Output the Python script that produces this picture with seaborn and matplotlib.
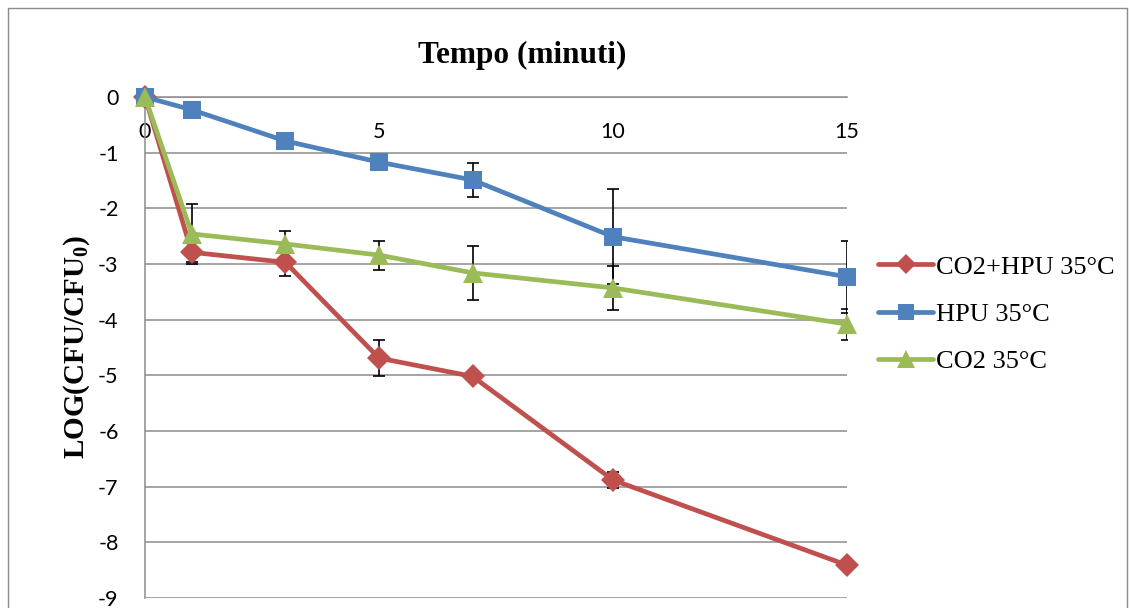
import matplotlib
matplotlib.use("Agg")
import matplotlib.pyplot as plt
import pandas as pd
import seaborn as sns

# minutes of treatment
minutes = [0, 1, 3, 5, 7, 10, 15]

# LOG(CFU/CFU0) for each treatment, with error bar half-widths
co2_hpu = [0, -2.79, -2.97, -4.69, -5.02, -6.88, -8.41]
co2_hpu_err = [0, 0.18, 0.24, 0.32, 0, 0.15, 0]
hpu = [0, -0.23, -0.79, -1.17, -1.49, -2.51, -3.23]
hpu_err = [0, 0, 0, 0, 0.30, 0.85, 0.65]
co2 = [0, -2.46, -2.64, -2.84, -3.16, -3.43, -4.08]
co2_err = [0, 0.54, 0.23, 0.26, 0.49, 0.40, 0.28]

series_names = ["CO2+HPU 35°C", "HPU 35°C", "CO2 35°C"]
y_ticks = [0, -1, -2, -3, -4, -5, -6, -7, -8, -9]
x_ticks = [0, 5, 10, 15]

colors = {"CO2+HPU 35°C": "#C0504D", "HPU 35°C": "#4F81BD", "CO2 35°C": "#9BBB59"}
markers = {"CO2+HPU 35°C": "D", "HPU 35°C": "s", "CO2 35°C": "^"}

values = [co2_hpu, hpu, co2]
errors = [co2_hpu_err, hpu_err, co2_err]

# long form table for seaborn
rows = []
for name, vals in zip(series_names, values):
    for m, v in zip(minutes, vals):
        rows.append({"minuti": m, "log": v, "serie": name})
df = pd.DataFrame(rows)

sns.set_style("white")
plt.rcParams["font.family"] = ["Lato", "DejaVu Sans"]
plt.rcParams["axes.unicode_minus"] = False
plt.rcParams["text.color"] = "black"
plt.rcParams["xtick.color"] = "black"
plt.rcParams["ytick.color"] = "black"

fig = plt.figure(figsize=(11.3, 6.08), dpi=100)
ax = fig.add_axes([145 / 1130, 1 - 598 / 608, 702 / 1130, 501 / 608])

sns.lineplot(data=df, x="minuti", y="log", hue="serie", style="serie",
             hue_order=series_names, style_order=series_names,
             palette=colors, markers=markers, dashes=False,
             linewidth=3.4, markersize=13, markeredgewidth=0,
             legend=False, ax=ax, clip_on=False)
line_handles = list(ax.lines[:3])
# Excel draws later series on top
for i, ln in enumerate(line_handles):
    ln.set_zorder(4 + i)
    if ln.get_marker() == "^":
        ln.set_markersize(15)
    elif ln.get_marker() == "D":
        ln.set_markersize(12)

# error bars (only where there is one)
for vals, errs in zip(values, errors):
    xs = [m for m, e in zip(minutes, errs) if e > 0]
    ys = [v for v, e in zip(vals, errs) if e > 0]
    es = [e for e in errs if e > 0]
    ax.errorbar(xs, ys, yerr=es, fmt="none", ecolor="black",
                elinewidth=1.2, capsize=4, capthick=1.2, zorder=3)

ax.set_xlim(0, 15)
ax.set_ylim(-9, 0)
ax.set_yticks(y_ticks)
ax.set_xticks(x_ticks)
ax.set_xlabel("")
ax.set_ylabel("")
ax.grid(axis="y", color="#8C8C8C", linewidth=1.1)
ax.grid(axis="x", visible=False)
ax.set_axisbelow(True)

for side in ["top", "right"]:
    ax.spines[side].set_visible(False)
ax.spines["bottom"].set_position(("data", 0))
ax.spines["bottom"].set_color("#8C8C8C")
ax.spines["bottom"].set_linewidth(1.1)
ax.spines["left"].set_color("#8C8C8C")
ax.spines["left"].set_linewidth(1.1)

ax.tick_params(axis="y", length=0, pad=19, labelsize=15.5)
ax.tick_params(axis="x", length=0, pad=18, labelsize=15.5)

# axis titles, Excel style
fig.text(522 / 1130, 1 - 55 / 608, "Tempo (minuti)", ha="center", va="center",
         fontsize=22.5, fontweight="bold", family="Liberation Serif")
fig.text(77 / 1130, 1 - 347 / 608, r"LOG(CFU/CFU$_\mathregular{0}$)",
         ha="center", va="center", rotation=90,
         fontsize=21, fontweight="bold", family="Liberation Serif")

fig.legend(line_handles, series_names, loc="center left",
           bbox_to_anchor=(878 / 1130, 1 - 314 / 608), frameon=False,
           prop={"family": "Liberation Serif", "size": 19},
           handlelength=2.1, handletextpad=0.1, labelspacing=0.9,
           markerscale=0.85, borderaxespad=0, borderpad=0)

# chart area border
border = plt.Rectangle((8 / 1130, -0.05), 1119 / 1130, 1 - 8 / 608 + 0.05,
                       transform=fig.transFigure, fill=False,
                       edgecolor="#8C8C8C", linewidth=1.0)
fig.patches.append(border)

fig.savefig("out.png", dpi=100)
